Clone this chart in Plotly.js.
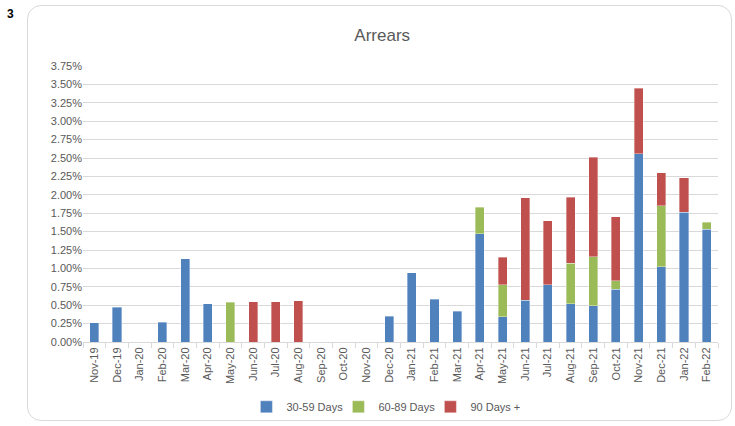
<!DOCTYPE html>
<html>
<head>
<meta charset="utf-8">
<script src="https://cdn.plot.ly/plotly-3.0.1.min.js"></script>
<style>
  html, body { margin: 0; padding: 0; background: #fff; }
  #wrap { position: relative; width: 735px; height: 426px; }
  #chart { position: absolute; left: 0; top: 0; width: 735px; height: 426px; }
  #frame { position: absolute; left: 27px; top: 5px; width: 705px; height: 416px;
           border: 1px solid #d9d9d9; border-radius: 14px; box-sizing: border-box; pointer-events: none; }
  #num { position: absolute; left: 7px; top: 7px; font: bold 12px "Liberation Sans", Arial, sans-serif; color: #000; }
</style>
</head>
<body>
<div id="wrap">
  <div id="chart"></div>
  <div id="frame"></div>
  <div id="num">3</div>
</div>
<script>
const months = ["Nov-19","Dec-19","Jan-20","Feb-20","Mar-20","Apr-20","May-20","Jun-20","Jul-20","Aug-20",
  "Sep-20","Oct-20","Nov-20","Dec-20","Jan-21","Feb-21","Mar-21","Apr-21","May-21","Jun-21","Jul-21",
  "Aug-21","Sep-21","Oct-21","Nov-21","Dec-21","Jan-22","Feb-22"];
const days30to59 = [0.26,0.47,null,0.27,1.13,0.52,null,null,null,null,
  null,null,null,0.35,0.94,0.58,0.42,1.47,0.34,0.57,0.78,
  0.52,0.49,0.72,2.56,1.02,1.76,1.53];
const days60to89 = [null,null,null,null,null,null,0.54,null,null,null,
  null,null,null,null,null,null,null,0.36,0.44,null,null,
  0.55,0.67,0.11,null,0.83,null,0.10];
const days90plus = [null,null,null,null,null,null,null,0.55,0.55,0.56,
  null,null,null,null,null,null,null,null,0.37,1.39,0.87,
  0.90,1.35,0.87,0.89,0.45,0.47,null];
const yTicks = [0,0.25,0.5,0.75,1,1.25,1.5,1.75,2,2.25,2.5,2.75,3,3.25,3.5,3.75];
const yTickText = yTicks.map(v => v.toFixed(2) + '%');

const fontFam = '"Liberation Sans", Arial, sans-serif';
const mk = (c) => ({color: c, line: {color: 'rgba(255,255,255,0.6)', width: 0.6}});
const data = [
  {type: 'bar', name: '30-59 Days', x: months, y: days30to59, marker: mk('#4f81bd')},
  {type: 'bar', name: '60-89 Days', x: months, y: days60to89, marker: mk('#9bbb59')},
  {type: 'bar', name: '90 Days +', x: months, y: days90plus, marker: mk('#c0504d')}
];
const layout = {
  width: 735, height: 426,
  margin: {l: 83, r: 17, t: 66, b: 84},
  paper_bgcolor: 'rgba(0,0,0,0)', plot_bgcolor: 'rgba(0,0,0,0)',
  barmode: 'stack', bargap: 0.6,
  font: {family: fontFam, size: 11, color: '#595959'},
  title: {text: 'Arrears', x: 0.52, xanchor: 'center', y: 0.918, yanchor: 'middle', yref: 'container',
          font: {family: fontFam, size: 17, color: '#595959'}},
  xaxis: {type: 'category', tickangle: -90, ticks: 'outside', tickson: 'boundaries', ticklen: 5,
          tickcolor: '#d9d9d9', showline: true, linecolor: '#d9d9d9', linewidth: 1, showgrid: false,
          tickfont: {size: 11, color: '#595959'}, fixedrange: true, automargin: false},
  yaxis: {range: [0, 3.75], tickvals: yTicks, ticktext: yTickText, showgrid: true,
          gridcolor: '#d9d9d9', gridwidth: 1, zeroline: false, showline: false, ticks: '',
          tickfont: {size: 11, color: '#595959'}, fixedrange: true, automargin: false},
  showlegend: true,
  legend: {orientation: 'h', xref: 'container', yref: 'container', x: 0.523, xanchor: 'center',
           y: 0.045, yanchor: 'middle', itemwidth: 30, entrywidth: 47,
           font: {size: 11, color: '#595959'}, traceorder: 'normal'}
};
Plotly.newPlot('chart', data, layout, {displayModeBar: false, staticPlot: true});
</script>
</body>
</html>
